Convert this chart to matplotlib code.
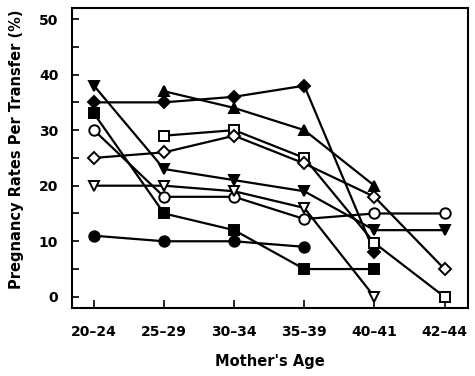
import matplotlib
matplotlib.use("Agg")
import matplotlib.pyplot as plt
import numpy as np
from matplotlib.ticker import MultipleLocator

plt.rcParams['font.family'] = ['DejaVu Sans']

categories = ["20–24", "25–29", "30–34", "35–39", "40–41", "42–44"]

# each series: values per category (None = absent)
tri_down_filled = [38, 23, 21, 19, 12, 12]
diamond_filled = [35, 35, 36, 38, 8, None]
tri_up_filled = [None, 37, 34, 30, 20, None]
square_filled = [33, 15, 12, 5, 5, None]
circle_open = [30, 18, 18, 14, 15, 15]
square_open = [None, 29, 30, 25, 9.7, 0]
diamond_open = [25, 26, 29, 24, 18, 5]
tri_down_open = [20, 20, 19, 16, 0, None]
circle_filled = [11, 10, 10, 9, None, None]

series = [
    (tri_down_filled, 'v', 'black'),
    (diamond_filled, 'D', 'black'),
    (tri_up_filled, '^', 'black'),
    (square_filled, 's', 'black'),
    (circle_open, 'o', 'white'),
    (square_open, 's', 'white'),
    (diamond_open, 'D', 'white'),
    (tri_down_open, 'v', 'white'),
    (circle_filled, 'o', 'black'),
]

fig = plt.figure(figsize=(4.75, 3.76), dpi=100)
ax = fig.add_axes([0.152, 0.181, 0.834, 0.798])

x = np.arange(len(categories))
for vals, mk, fc in series:
    xs = [xi for xi, v in zip(x, vals) if v is not None]
    ys = [v for v in vals if v is not None]
    ms = 6 if mk == 'D' else 7.5
    ax.plot(xs, ys, color='black', lw=1.6, marker=mk, markersize=ms,
            markerfacecolor=fc, markeredgecolor='black', markeredgewidth=1.4,
            zorder=3)

ax.set_xlim(-0.31, 5.34)
ax.set_ylim(-2, 52)
ax.set_xticks(x)
ax.set_xticklabels(categories)
ax.yaxis.set_major_locator(MultipleLocator(10))
ax.yaxis.set_minor_locator(MultipleLocator(5))
ax.tick_params(axis='both', which='both', direction='in', top=False, right=False,
               width=1.2, labelsize=10)
ax.tick_params(axis='y', which='major', length=5, pad=10)
ax.tick_params(axis='y', which='minor', length=5)
ax.tick_params(axis='x', which='major', length=6, pad=12)
for lab in ax.get_xticklabels() + ax.get_yticklabels():
    lab.set_fontweight('bold')
for sp in ax.spines.values():
    sp.set_linewidth(1.5)

ax.set_xlabel("Mother's Age", fontsize=10.5, fontweight='bold', labelpad=11)
ax.set_ylabel("Pregnancy Rates Per Transfer (%)", fontsize=10.5, fontweight='bold',
              labelpad=11)
ax.yaxis.label.set_y(0.53)

fig.savefig("out.png", dpi=100)
